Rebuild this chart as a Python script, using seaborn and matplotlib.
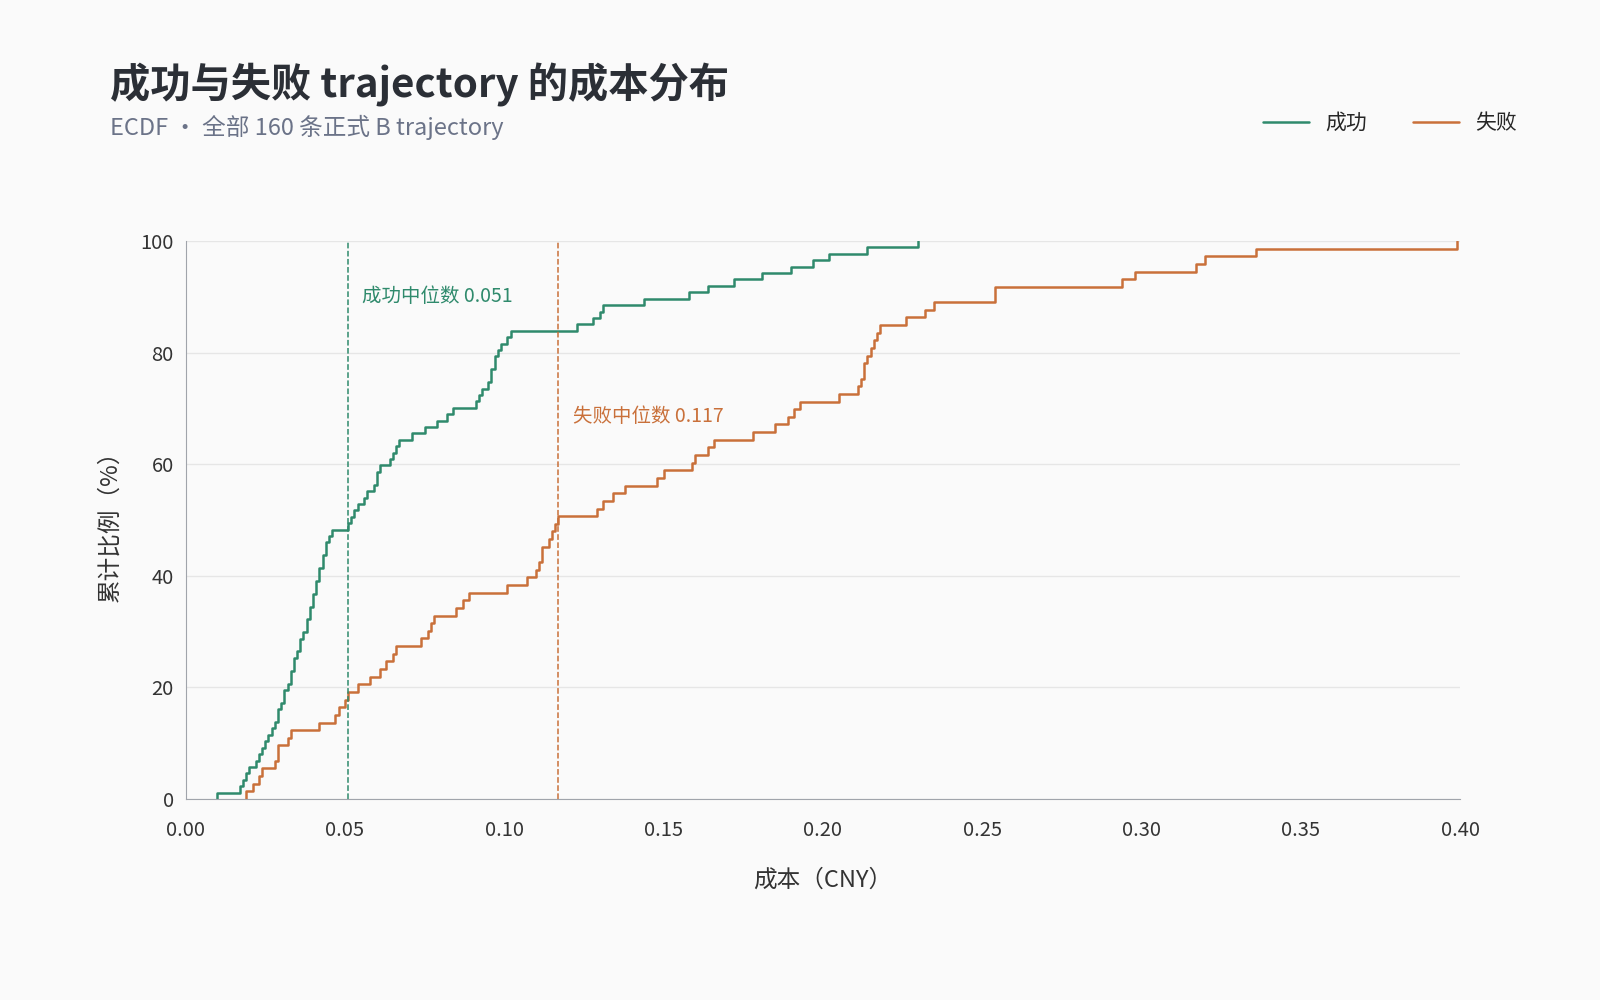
import pandas as pd
import matplotlib.pyplot as plt
import seaborn as sns
from matplotlib.lines import Line2D

# cost per trajectory (CNY)
success_cost = [0.010,
                0.017, 0.018, 0.019, 0.020,
                0.022, 0.023, 0.024, 0.025, 0.026, 0.027, 0.028, 0.029, 0.029, 0.030,
                0.031, 0.031, 0.032, 0.033, 0.033, 0.034, 0.034, 0.035, 0.036, 0.036, 0.037,
                0.038, 0.038, 0.039, 0.039, 0.040, 0.040, 0.041, 0.041, 0.042,
                0.042, 0.043, 0.043, 0.044, 0.044, 0.045, 0.046,
                0.051, 0.052, 0.053, 0.054, 0.056, 0.057, 0.059, 0.060,
                0.060, 0.061, 0.064, 0.065, 0.066, 0.067, 0.071, 0.075, 0.079, 0.082, 0.084,
                0.091, 0.092, 0.093,
                0.095, 0.096, 0.096, 0.097, 0.097, 0.098, 0.099,
                0.101, 0.102, 0.123, 0.128, 0.130, 0.131,
                0.144, 0.158, 0.164, 0.172, 0.181, 0.190, 0.197, 0.202, 0.214, 0.230]
fail_cost = [0.019, 0.021, 0.023, 0.024, 0.028, 0.029, 0.029, 0.032, 0.033, 0.042,
             0.047, 0.048, 0.050, 0.051, 0.054, 0.058, 0.061, 0.063, 0.065, 0.066,
             0.074, 0.076, 0.077, 0.078, 0.085, 0.087, 0.089, 0.101, 0.107,
             0.110, 0.111, 0.112, 0.112, 0.114, 0.115, 0.116, 0.117,
             0.129, 0.131, 0.134, 0.138, 0.148, 0.150, 0.159, 0.160, 0.164, 0.166,
             0.178, 0.185, 0.189, 0.191, 0.193, 0.205, 0.211,
             0.212, 0.213, 0.213, 0.214, 0.215, 0.216, 0.217, 0.218,
             0.226, 0.232, 0.235, 0.254, 0.254, 0.294, 0.298, 0.317, 0.320, 0.336, 0.399]
success_median = 0.051
fail_median = 0.117

green = "#2f8a6c"
orange = "#c9703a"

df = pd.DataFrame({
    "cost": success_cost + fail_cost,
    "group": ["成功"] * len(success_cost) + ["失败"] * len(fail_cost),
})

sns.set_style("white")
plt.rcParams['font.family'] = ['Noto Sans CJK SC', 'DejaVu Sans']

fig = plt.figure(figsize=(16, 10), dpi=100, facecolor="#fafafa")
ax = fig.add_axes([0.116, 0.201, 0.7965, 0.558])
ax.set_facecolor("#fafafa")

sns.ecdfplot(data=df, x="cost", hue="group", stat="percent",
             palette={"成功": green, "失败": orange}, linewidth=1.8, ax=ax, legend=False)

ax.axvline(success_median, color=green, ls="--", lw=1.1)
ax.axvline(fail_median, color=orange, ls="--", lw=1.1)
ax.text(success_median + 0.0045, 90, "成功中位数 0.051", color=green, fontsize=14, va="center")
ax.text(fail_median + 0.0045, 68.5, "失败中位数 0.117", color=orange, fontsize=14, va="center")

ax.set_xlim(0, 0.40)
ax.set_ylim(0, 100)
ax.set_xticks([0, 0.05, 0.10, 0.15, 0.20, 0.25, 0.30, 0.35, 0.40])
ax.set_xticklabels([f"{v:.2f}" for v in ax.get_xticks()])
ax.set_yticks([0, 20, 40, 60, 80, 100])
ax.tick_params(labelsize=14.5, colors="#333333", length=5, color="#999999")
ax.tick_params(axis="x", pad=10)
ax.grid(axis="y", color="#e6e6e6", lw=1)
ax.set_axisbelow(True)
for s in ["top", "right"]:
    ax.spines[s].set_visible(False)
for s in ["left", "bottom"]:
    ax.spines[s].set_color("#a0a4ab")
ax.set_xlabel("成本（CNY）", fontsize=17, color="#333333", labelpad=20)
ax.set_ylabel("累计比例（%）", fontsize=17, color="#333333", labelpad=14)

fig.text(0.069, 0.915, "成功与失败 trajectory 的成本分布", fontsize=29, fontweight="bold",
         color="#2b2f36", va="center")
fig.text(0.069, 0.873, "ECDF · 全部 160 条正式 B trajectory", fontsize=17,
         color="#6b7388", va="center")

handles = [Line2D([], [], color=green, lw=1.8), Line2D([], [], color=orange, lw=1.8)]
fig.legend(handles, ["成功", "失败"], loc="center right", bbox_to_anchor=(0.96, 0.877),
           ncol=2, frameon=False, fontsize=15, handlelength=2.2, columnspacing=2.2)

fig.savefig("out.png", dpi=100, facecolor=fig.get_facecolor())
